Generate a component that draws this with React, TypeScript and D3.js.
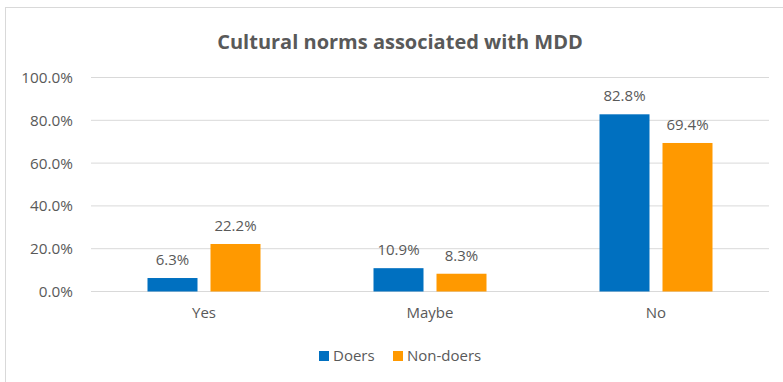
import React from "react";
import * as d3 from "d3";

const categories = ["Yes", "Maybe", "No"];
const seriesNames = ["Doers", "Non-doers"];
const doers = [6.3, 10.9, 82.8];
const nonDoers = [22.2, 8.3, 69.4];
const yTicks = [0, 20, 40, 60, 80, 100];
const colors = ["#0070C0", "#FF9900"];

export default function App() {
  const W = 783, H = 382;
  const left = 91, right = 769, top = 77.5, bottom = 291.5;
  const x = d3.scaleBand().domain(categories).range([left, right]).paddingInner(0).paddingOuter(0);
  const y = d3.scaleLinear().domain([0, 100]).range([bottom, top]);
  const bw = 50, gap = 13;
  const series = [doers, nonDoers];
  const font = "'Open Sans', sans-serif";
  const txt = "#595959";
  return (
    <svg width={W} height={H} style={{ position: "absolute", left: 0, top: 0 }} fontFamily={font}>
      <rect x={0} y={0} width={W} height={H} fill="#fff" />
      <rect x={5.5} y={7.5} width={W + 10} height={H} fill="#fff" stroke="#d9d9d9" />
      <text x={400} y={49} textAnchor="middle" fontSize={20} fontWeight={700} fill={txt}>
        Cultural norms associated with MDD
      </text>
      {yTicks.map((t) => (
        <g key={t}>
          <line x1={left} x2={right} y1={y(t)} y2={y(t)} stroke="#d9d9d9" strokeWidth={1} />
          <text x={73} y={y(t) + 5.5} textAnchor="end" fontSize={15.3} fill={txt}>
            {t.toFixed(1)}%
          </text>
        </g>
      ))}
      {categories.map((c, i) => {
        const cx = (x(c) as number) + x.bandwidth() / 2;
        return (
          <g key={c}>
            {series.map((s, j) => {
              const bx = j === 0 ? cx - gap / 2 - bw : cx + gap / 2;
              return (
                <g key={j}>
                  <rect x={bx} y={y(s[i])} width={bw} height={bottom - y(s[i])} fill={colors[j]} />
                  <text x={bx + bw / 2} y={y(s[i]) - 13} textAnchor="middle" fontSize={15} fill={txt}>
                    {s[i].toFixed(1)}%
                  </text>
                </g>
              );
            })}
            <text x={cx} y={318} textAnchor="middle" fontSize={15} fill={txt}>
              {c}
            </text>
          </g>
        );
      })}
      {seriesNames.map((n, j) => {
        const lx = j === 0 ? 319 : 393;
        return (
          <g key={n}>
            <rect x={lx} y={351} width={10} height={10} fill={colors[j]} />
            <text x={lx + 14} y={361} fontSize={15} fill={txt}>
              {n}
            </text>
          </g>
        );
      })}
    </svg>
  );
}
